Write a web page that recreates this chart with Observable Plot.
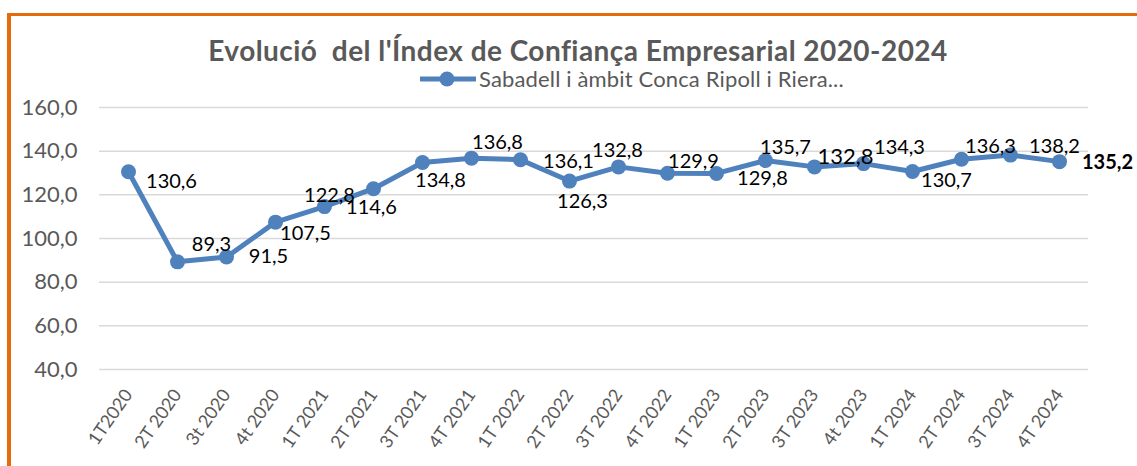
<!DOCTYPE html>
<html>
<head>
<meta charset="utf-8">
<script src="https://cdn.jsdelivr.net/npm/d3@7"></script>
<script src="https://cdn.jsdelivr.net/npm/@observablehq/plot@0.6"></script>
<style>
  html, body { margin: 0; padding: 0; background: #fff; }
  body { width: 1137px; height: 466px; overflow: hidden; position: relative; font-family: Lato, "Open Sans", sans-serif; }
  #frame { position: absolute; left: 7px; top: 13px; width: 1200px; height: 500px;
           border-left: 4px solid #E46C0A; border-top: 3px solid #E46C0A; pointer-events: none; z-index: 2; }
  #header { position: relative; height: 95px; }
  #title { position: absolute; left: 578px; top: 36px; transform: translateX(-50%);
           white-space: pre; font-weight: bold; font-size: 28px; letter-spacing: 0.45px; color: #595959; line-height: 1; }
  #legend { position: absolute; left: 420px; top: 68px; display: flex; align-items: center; height: 22px; }
  #legend span { font-size: 22px; letter-spacing: 0.15px; color: #595959; margin-left: 3px; white-space: pre; line-height: 1; }
  #chart svg { display: block; }
</style>
</head>
<body>
<div id="frame"></div>
<div id="header">
  <div id="title"></div>
  <div id="legend"></div>
</div>
<div id="chart"></div>
<script>
const title = "Evolució  del l'Índex de Confiança Empresarial 2020-2024";
const seriesName = "Sabadell i àmbit Conca Ripoll i Riera...";
const quarters = ["1T2020","2T 2020","3t 2020","4t 2020","1T 2021","2T 2021","3T 2021","4T 2021",
  "1T 2022","2T 2022","3T 2022","4T 2022","1T 2023","2T 2023","3T 2023","4t 2023",
  "1T 2024","2T 2024","3T 2024","4T 2024"];
const values = [130.6, 89.3, 91.5, 107.5, 114.6, 122.8, 134.8, 136.8, 136.1, 126.3,
  132.8, 129.9, 129.8, 135.7, 132.8, 134.3, 130.7, 136.3, 138.2, 135.2];
const yTicks = [40, 60, 80, 100, 120, 140, 160];

// label placement (offset of label centre from its point), as drawn in the original
const labelOffsets = [[43,10],[34,-17],[42,0],[30,11],[47,1],[-44,7],[18,18],[26,-16],[48,2],[13,21],
  [-1,-16],[26,-12],[46,5],[20,-13],[31,-10],[36,-16],[34,9],[29,-13],[44,-9],[48,1]];

const data = quarters.map((q, i) => ({q, v: values[i], i}));
const fmt = v => v.toFixed(1).replace(".", ",");
const blue = "#4F81BD";

document.getElementById("title").textContent = title;
const legend = document.getElementById("legend");
legend.innerHTML = `<svg width="56" height="20"><line x1="0" x2="56" y1="10" y2="10" stroke="${blue}" stroke-width="5"/><circle cx="27" cy="10" r="7.5" fill="${blue}"/></svg><span></span>`;
legend.querySelector("span").textContent = seriesName;

const labelMarks = data.map((d, i) => Plot.text([d], {
  x: "q", y: "v", text: d => fmt(d.v),
  dx: labelOffsets[i][0], dy: labelOffsets[i][1],
  fill: "#000", fontSize: i === 14 ? 22 : 20,
  fontWeight: i === 19 ? "bold" : "normal",
  textAnchor: "middle", lineAnchor: "middle"
}));

const chart = Plot.plot({
  width: 1137,
  height: 371,
  marginLeft: 99,
  marginRight: 49,
  marginTop: 12,
  marginBottom: 97,
  style: {fontFamily: "Lato, 'Open Sans', sans-serif", background: "#fff", overflow: "visible"},
  x: {type: "point", domain: quarters, padding: 0.5, align: 0.5},
  y: {domain: [40, 160]},
  marks: [
    Plot.gridY(yTicks, {stroke: "#D9D9D9", strokeOpacity: 1, strokeWidth: 1.5}),
    Plot.axisY(yTicks, {tickSize: 0, tickPadding: 22, tickFormat: fmt, fontSize: 22, fill: "#595959", label: null}),
    Plot.axisX({tickSize: 0, tickRotate: -55, tickPadding: 22, fontSize: 18, fill: "#595959", label: null}),
    Plot.line(data, {x: "q", y: "v", stroke: blue, strokeWidth: 5, strokeLinejoin: "round"}),
    Plot.dot(data, {x: "q", y: "v", r: 7.5, fill: blue, stroke: "none"}),
    ...labelMarks
  ]
});
document.getElementById("chart").appendChild(chart);
</script>
</body>
</html>
